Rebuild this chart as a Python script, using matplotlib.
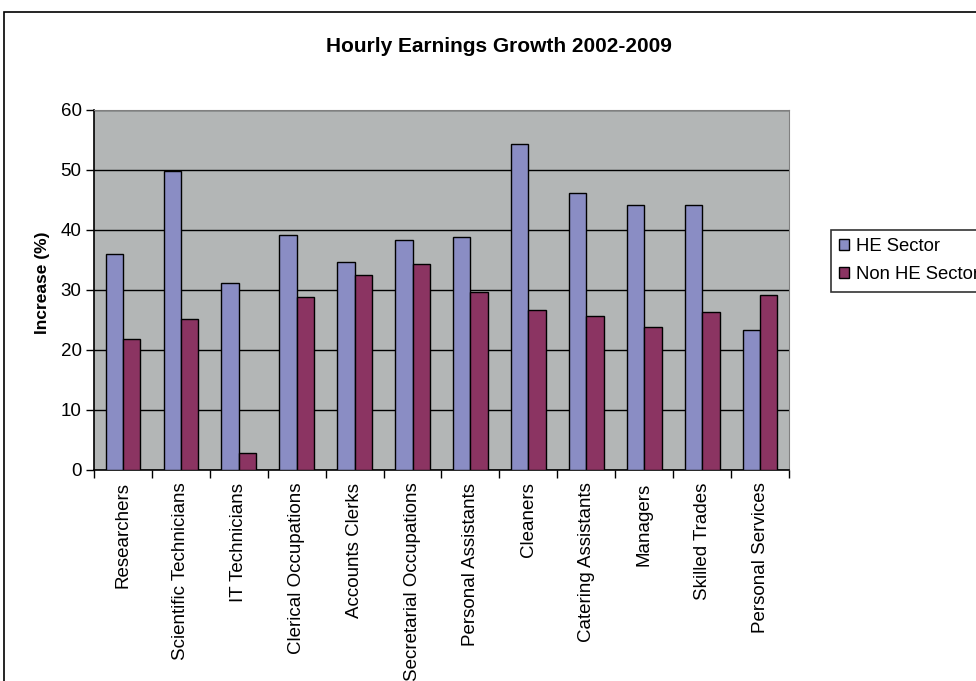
import matplotlib.pyplot as plt
import numpy as np
from matplotlib.patches import Rectangle
from matplotlib.ticker import FixedLocator, NullFormatter

categorias = ['Researchers', 'Scientific Technicians', 'IT Technicians',
              'Clerical Occupations', 'Accounts Clerks', 'Secretarial Occupations',
              'Personal Assistants', 'Cleaners', 'Catering Assistants',
              'Managers', 'Skilled Trades', 'Personal Services']
he_sector = [36.0, 49.8, 31.1, 39.1, 34.6, 38.3, 38.9, 54.3, 46.2, 44.1, 44.1, 23.4]
non_he_sector = [21.8, 25.2, 2.9, 28.9, 32.5, 34.3, 29.6, 26.6, 25.6, 23.9, 26.3, 29.2]

plt.rcParams['font.family'] = ['Liberation Sans', 'DejaVu Sans']

fig = plt.figure(figsize=(9.76, 6.81), dpi=100)
# marco exterior del grafico
fig.patches.append(Rectangle((4 / 976, -0.1), 1.2, 1 - 12 / 681 + 0.1,
                             transform=fig.transFigure, fill=False,
                             edgecolor='black', linewidth=1.2))

ax = fig.add_axes([94 / 976, 1 - 470 / 681, 695 / 976, 360 / 681])
ax.set_facecolor('#b3b6b6')

x = np.arange(len(categorias))
ancho = 0.3
ax.bar(x - ancho / 2, he_sector, ancho, color='#8a8dc4', edgecolor='black',
       linewidth=1, label='HE Sector', zorder=3)
ax.bar(x + ancho / 2, non_he_sector, ancho, color='#8b3462', edgecolor='black',
       linewidth=1, label='Non HE Sector', zorder=3)

ax.set_xlim(-0.5, len(categorias) - 0.5)
ax.set_ylim(0, 60)
ax.set_yticks(range(0, 61, 10))
ax.yaxis.grid(True, color='black', linewidth=1, zorder=1)

ax.set_xticks(x)
ax.set_xticklabels(categorias, rotation=90, fontsize=13.5)
ax.tick_params(axis='x', which='major', length=0, pad=9)
ax.xaxis.set_minor_locator(FixedLocator(np.arange(-0.5, len(categorias), 1)))
ax.xaxis.set_minor_formatter(NullFormatter())
ax.tick_params(axis='x', which='minor', length=6, width=1, direction='out')
ax.tick_params(axis='y', labelsize=13.5, length=6, width=1, direction='out', pad=3)

for lado in ['top', 'right']:
    ax.spines[lado].set_color('#808080')
for lado in ['left', 'bottom']:
    ax.spines[lado].set_color('black')
    ax.spines[lado].set_linewidth(1.2)

ax.set_ylabel('Increase (%)', fontsize=12.5, fontweight='bold')
ax.yaxis.set_label_coords(-0.064, 0.52)
fig.text(499 / 976, 1 - 46 / 681, 'Hourly Earnings Growth 2002-2009',
         ha='center', va='center', fontsize=15, fontweight='bold')

leg = fig.legend(loc='upper left', bbox_to_anchor=(831 / 976, 1 - 230 / 681),
                 fontsize=13.3, frameon=True, fancybox=False, edgecolor='black',
                 handlelength=0.55, handleheight=0.55, handletextpad=0.35,
                 borderpad=0.45, labelspacing=0.6, borderaxespad=0)
leg.get_frame().set_linewidth(1.2)

plt.savefig('out.png')
